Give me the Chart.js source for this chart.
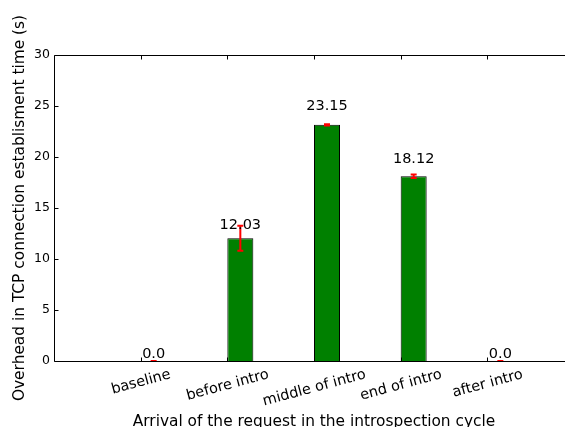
<!DOCTYPE html>
<html>
<head>
<meta charset="utf-8">
<script src="https://cdn.jsdelivr.net/npm/chart.js@4.4.0/dist/chart.umd.min.js"></script>
<style>
    html, body { margin: 0; padding: 0; background: #ffffff; }
    #wrap { width: 565px; height: 427px; }
</style>
</head>
<body>
<div id="wrap"><canvas id="chart" width="565" height="427"></canvas></div>
<script>
const categories = ['baseline', 'before intro', 'middle of intro', 'end of intro', 'after intro'];
const overheads = [0.0, 12.03, 23.15, 18.12, 0.0];
const errors = [0.0, 1.22, 0.05, 0.17, 0.0];
const yTicks = [0, 5, 10, 15, 20, 25, 30];
const xTitle = 'Arrival of the request in the introspection cycle';
const yTitle = 'Overhead in TCP connection establisment time (s)';

const BAR_WIDTH = 0.3;
const X_MIN = -1;
const X_MAX = 5;          // full axes range; the figure is cut at the right
const X_VISIBLE = 4.896;  // part of the range that fits in the canvas
const FONT = "'DejaVu Sans', sans-serif";

// bars sit with their left edge on the tick (matplotlib align='edge')
const barData = overheads.map((v, i) => ({ x: i + BAR_WIDTH / 2, y: v }));

const overlay = {
    id: 'overlay',
    afterDatasetsDraw(chart) {
        const { ctx, scales: { x, y } } = chart;
        ctx.save();
        ctx.strokeStyle = '#ff0000';
        ctx.lineWidth = 2;
        overheads.forEach((v, i) => {
            const px = x.getPixelForValue(i + BAR_WIDTH / 2);
            const top = y.getPixelForValue(v + errors[i]);
            const bot = y.getPixelForValue(v - errors[i]);
            ctx.beginPath();
            ctx.moveTo(px, top); ctx.lineTo(px, bot);
            ctx.moveTo(px - 3, top); ctx.lineTo(px + 3, top);
            ctx.moveTo(px - 3, bot); ctx.lineTo(px + 3, bot);
            ctx.stroke();
        });
        ctx.restore();
    },
    afterDraw(chart) {
        const { ctx, chartArea: area, scales: { x, y } } = chart;
        const left = Math.round(area.left) + 0.5;
        const top = Math.round(area.top) + 0.5;
        const bottom = Math.floor(area.bottom) + 0.5;
        const right = area.right;

        ctx.save();
        // axes box
        ctx.strokeStyle = '#000000';
        ctx.lineWidth = 1;
        ctx.beginPath();
        ctx.moveTo(right, top); ctx.lineTo(left, top); ctx.lineTo(left, bottom); ctx.lineTo(right, bottom);
        ctx.stroke();

        // inward ticks
        ctx.beginPath();
        categories.forEach((c, i) => {
            const px = Math.round(x.getPixelForValue(i)) + 0.5;
            ctx.moveTo(px, bottom); ctx.lineTo(px, bottom - 4);
            ctx.moveTo(px, top); ctx.lineTo(px, top + 4);
        });
        yTicks.forEach(t => {
            const py = Math.round(y.getPixelForValue(t)) + 0.5;
            ctx.moveTo(left, py); ctx.lineTo(left + 4, py);
        });
        ctx.stroke();

        // rotated category labels, centred on the tick
        const size = 14.5;
        const rot = 15 * Math.PI / 180;
        ctx.fillStyle = '#000000';
        ctx.font = size + 'px ' + FONT;
        ctx.textAlign = 'center';
        ctx.textBaseline = 'alphabetic';
        categories.forEach((c, i) => {
            const w = ctx.measureText(c).width;
            const h = size * 1.164;
            const boxH = w * Math.sin(rot) + h * Math.cos(rot);
            const cx = x.getPixelForValue(i);
            const cy = area.bottom + 4 + boxH / 2;
            ctx.save();
            ctx.translate(cx, cy);
            ctx.rotate(-rot);
            ctx.fillText(c, 0, size * 0.346);
            ctx.restore();
        });

        // value labels above bars
        ctx.font = '14.5px ' + FONT;
        overheads.forEach((v, i) => {
            const px = x.getPixelForValue(i + BAR_WIDTH / 2);
            const py = y.getPixelForValue(v * 1.05) - 3.5;
            ctx.fillText(v.toFixed(v === 0 ? 1 : 2), px, py);
        });

        // x axis title, centred on the full axes (which runs past the canvas)
        ctx.font = '15.4px ' + FONT;
        ctx.fillText(xTitle, x.getPixelForValue((X_MIN + X_MAX) / 2), 426);
        ctx.restore();
    }
};

new Chart(document.getElementById('chart'), {
    type: 'bar',
    data: {
        datasets: [{
            data: barData,
            backgroundColor: '#008000',
            borderColor: '#000000',
            borderWidth: 1,
            categoryPercentage: 1,
            barPercentage: BAR_WIDTH
        }]
    },
    options: {
        responsive: false,
        animation: false,
        layout: { padding: { top: 55, right: 0, left: 0, bottom: 0 } },
        plugins: {
            legend: { display: false },
            tooltip: { enabled: false }
        },
        scales: {
            x: {
                type: 'linear',
                min: X_MIN,
                max: X_VISIBLE,
                offset: false,
                grid: { display: false, offset: false, drawTicks: false },
                border: { display: false },
                ticks: { display: false },
                afterBuildTicks: scale => {
                    scale.ticks = categories.map((c, i) => ({ value: i }));
                },
                afterFit: scale => { scale.height = 66; }
            },
            y: {
                min: 0,
                max: 30,
                grid: { display: false, drawTicks: false },
                border: { display: false },
                ticks: {
                    stepSize: 5,
                    padding: 4,
                    color: '#000000',
                    font: { family: FONT, size: 12.5 }
                },
                afterFit: scale => { scale.width = 54; },
                title: {
                    display: true,
                    text: yTitle,
                    color: '#000000',
                    font: { family: FONT, size: 15.4 },
                    padding: { top: 11, bottom: 0 }
                }
            }
        }
    },
    plugins: [overlay]
});
</script>
</body>
</html>
